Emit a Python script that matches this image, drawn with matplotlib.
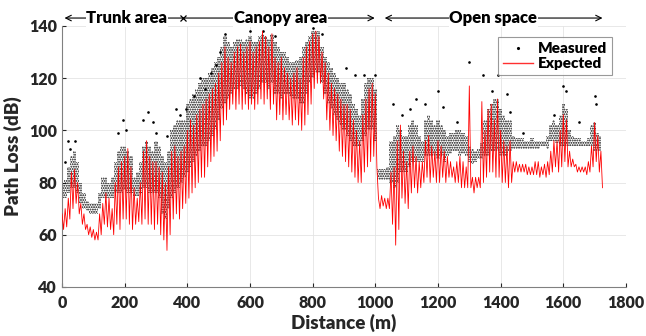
import matplotlib
matplotlib.use('Agg')
import matplotlib.pyplot as plt
from matplotlib.lines import Line2D

# distance bins (m), 10 m apart
dist = list(range(0, 1730, 10))

# measured path loss, dense band per bin (dB)
meas_lo = [74, 74, 76, 78, 78, 76, 72, 70, 69, 68,
           68, 68, 70, 74, 74, 74, 74, 76, 76, 76,
           77, 76, 76, 75, 75, 76, 78, 78, 76, 76,
           76, 74, 68, 66, 70, 74, 76, 78, 80, 82,
           84, 86, 88, 90, 92, 94, 94, 96, 98, 100,
           104, 108, 110, 112, 114, 116, 116, 117, 116, 114,
           112, 112, 114, 116, 118, 118, 116, 118, 114, 114,
           112, 114, 114, 113, 112, 112, 110, 110, 114, 118,
           120, 122, 122, 118, 114, 110, 108, 106, 104, 102,
           100, 98, 96, 94, 94, 94, 96, 98, 100, 100,
           96, 81, 81, 81, 81, 80, 78, 80, 84, 84,
           84, 86, 88, 88, 88, 88, 90, 90, 90, 90,
           89, 90, 88, 90, 91, 92, 92, 90, 91, 90,
           88, 87, 88, 89, 89, 90, 90, 92, 92, 92,
           90, 90, 90, 92, 93, 93, 93, 93, 93, 93,
           93, 93, 93, 94, 94, 93, 96, 96, 95, 94,
           94, 94, 94, 94, 94, 94, 94, 94, 94, 94,
           92, 92, 92]
meas_hi = [80, 81, 86, 90, 92, 88, 80, 76, 73, 72,
           72, 72, 76, 82, 82, 80, 82, 88, 92, 94,
           94, 92, 90, 82, 84, 88, 94, 96, 94, 92,
           96, 94, 90, 88, 92, 100, 102, 104, 104, 104,
           110, 112, 114, 116, 118, 120, 120, 122, 124, 126,
           128, 132, 136, 134, 132, 134, 135, 135, 134, 135,
           136, 134, 134, 136, 137, 136, 135, 137, 134, 132,
           130, 130, 128, 126, 126, 127, 128, 132, 134, 136,
           138, 138, 138, 132, 128, 126, 124, 122, 120, 118,
           118, 116, 114, 110, 108, 106, 112, 118, 120, 120,
           116, 85, 85, 85, 86, 96, 98, 102, 100, 98,
           98, 102, 104, 102, 98, 96, 104, 106, 104, 102,
           104, 102, 100, 98, 99, 99, 100, 100, 99, 98,
           94, 93, 92, 93, 95, 104, 108, 110, 112, 112,
           108, 106, 104, 104, 98, 97, 97, 97, 96, 96,
           97, 96, 96, 96, 96, 98, 102, 104, 102, 106,
           110, 108, 100, 98, 97, 97, 96, 96, 97, 102,
           103, 99, 98]

# expected path loss, upper and lower swing per bin (dB)
exp_hi = [68, 70, 74, 84, 85, 80, 72, 68, 64, 63,
          62, 61, 68, 72, 76, 74, 70, 80, 86, 88,
          90, 93, 86, 78, 74, 80, 92, 96, 90, 88,
          88, 86, 84, 80, 86, 92, 94, 90, 92, 94,
          100, 104, 102, 106, 108, 110, 112, 114, 116, 118,
          122, 126, 132, 128, 126, 130, 132, 133, 130, 132,
          134, 130, 132, 134, 138, 136, 132, 137, 128, 126,
          128, 124, 122, 120, 122, 124, 120, 128, 132, 134,
          137, 138, 136, 130, 126, 122, 118, 116, 114, 112,
          110, 110, 108, 104, 100, 96, 106, 112, 116, 118,
          114, 74, 75, 74, 74, 84, 86, 96, 102, 92,
          88, 92, 94, 90, 88, 88, 96, 98, 94, 92,
          96, 94, 92, 90, 88, 86, 88, 90, 88, 86,
          117, 82, 82, 82, 111, 100, 108, 110, 104, 112,
          100, 96, 94, 96, 88, 88, 87, 87, 87, 86,
          86, 88, 88, 86, 87, 88, 92, 96, 96, 100,
          106, 104, 92, 89, 87, 86, 86, 86, 88, 94,
          103, 98, 92]
exp_lo = [62, 63, 66, 70, 72, 68, 64, 62, 60, 59,
          58, 58, 60, 64, 63, 62, 60, 64, 62, 66,
          66, 64, 62, 64, 65, 64, 66, 64, 64, 62,
          64, 60, 58, 54, 60, 66, 68, 66, 70, 72,
          74, 76, 78, 80, 82, 82, 86, 88, 90, 92,
          96, 102, 104, 108, 110, 108, 110, 108, 110, 108,
          110, 108, 110, 112, 110, 112, 108, 110, 104, 106,
          104, 106, 104, 102, 104, 102, 100, 102, 106, 110,
          116, 118, 118, 112, 104, 100, 98, 96, 92, 90,
          88, 86, 84, 82, 80, 80, 84, 86, 88, 90,
          86, 70, 71, 70, 70, 64, 56, 62, 74, 72,
          70, 76, 78, 76, 78, 80, 82, 80, 82, 80,
          80, 82, 80, 82, 82, 80, 80, 78, 78, 78,
          78, 76, 78, 78, 80, 82, 84, 84, 82, 82,
          80, 80, 78, 80, 84, 84, 84, 84, 83, 83,
          83, 83, 82, 83, 82, 83, 84, 86, 84, 86,
          88, 86, 86, 86, 84, 84, 84, 83, 84, 86,
          88, 84, 78]

# isolated measured points above the dense band
out_x = [10, 20, 25, 40, 180, 195, 205, 260, 275, 290, 300, 335, 365, 375,
         395, 420, 440, 455, 475, 490, 505, 520, 600, 640, 680, 800, 830,
         905, 935, 965, 1000, 1055, 1085, 1110, 1130, 1160, 1200, 1215,
         1260, 1299, 1344, 1371, 1392, 1420, 1430, 1470, 1570, 1600, 1610,
         1650, 1700, 1705]
out_y = [88, 96, 93, 96, 99, 104, 100, 104, 107, 103, 99, 98, 108, 106,
         108, 113, 120, 116, 122, 125, 130, 137, 138, 138, 136, 139, 137,
         124, 121, 121, 121, 110, 106, 108, 112, 110, 115, 109,
         103, 126, 121, 115, 121, 114, 107, 99, 106, 117, 115,
         103, 113, 110]

plt.rcParams['font.family'] = ['Lato', 'DejaVu Sans']
plt.rcParams['font.weight'] = 'bold'
plt.rcParams['hatch.linewidth'] = 0.9

fig = plt.figure(figsize=(6.46, 3.36), dpi=100)
ax = fig.add_axes([0.096, 0.146, 0.873, 0.777])

# measured: dotted band per bin
ax.fill_between(dist, meas_lo, meas_hi, step='mid', facecolor='none',
                edgecolor='black', hatch='.......', linewidth=0, zorder=2)
ax.plot(out_x, out_y, '.', color='black', markersize=1.8, zorder=2)

# expected: line swinging between high and low in each bin
ex = []
ey = []
for d, hi, lo in zip(dist, exp_hi, exp_lo):
    ex += [d, d + 5]
    ey += [hi, lo]
ax.plot(ex, ey, color='#ff0000', linewidth=0.6, zorder=3)

ax.set_xlim(0, 1800)
ax.set_ylim(40, 140)
ax.set_xticks(range(0, 1801, 200))
ax.set_yticks(range(40, 141, 20))
ax.tick_params(direction='in', labelsize=11.5, colors='#262626', length=3)
ax.tick_params(axis='x', pad=6)
for lab in ax.get_xticklabels() + ax.get_yticklabels():
    lab.set_fontweight('heavy')
ax.grid(True, color='#e4e4e4', linewidth=0.6)
ax.set_axisbelow(True)
ax.spines['top'].set_visible(False)
ax.spines['right'].set_visible(False)
ax.spines['left'].set_color('#808080')
ax.spines['bottom'].set_color('#808080')

ax.set_xlabel('Distance (m)', fontsize=13.5, fontweight='heavy', color='#262626', labelpad=2)
ax.set_ylabel('Path Loss (dB)', fontsize=13.5, fontweight='heavy', color='#262626', labelpad=5)

handles = [Line2D([], [], linestyle='none', marker='.', color='black', markersize=2.5),
           Line2D([], [], color='#ff3030', linewidth=1.0)]
leg = ax.legend(handles, ['Measured', 'Expected'], loc='upper right',
                bbox_to_anchor=(0.988, 0.985), frameon=True,
                fancybox=False, edgecolor='#808080', handlelength=2.0,
                handletextpad=0.3, borderpad=0.3, labelspacing=0.15,
                prop={'weight': 'heavy', 'size': 11})
leg.get_frame().set_linewidth(0.8)

# region labels above the axes
ya = 143
arw = dict(arrowstyle='->', color='black', lw=0.8, shrinkA=0, shrinkB=0)
ax.annotate('', xy=(8, ya), xytext=(386, ya), arrowprops=arw, annotation_clip=False)
ax.annotate('', xy=(998, ya), xytext=(386, ya), arrowprops=arw, annotation_clip=False)
ax.annotate('', xy=(1030, ya), xytext=(1380, ya), arrowprops=arw, annotation_clip=False)
ax.annotate('', xy=(1725, ya), xytext=(1380, ya), arrowprops=arw, annotation_clip=False)
ax.plot([386], [ya], marker='x', color='black', markersize=5, mew=0.9, clip_on=False)
box = dict(facecolor='white', edgecolor='none', pad=0.5)
ax.text(207, ya, 'Trunk area', ha='center', va='center', fontsize=12,
        fontweight='heavy', bbox=box, clip_on=False)
ax.text(697, ya, 'Canopy area', ha='center', va='center', fontsize=12,
        fontweight='heavy', bbox=box, clip_on=False)
ax.text(1376, ya, 'Open space', ha='center', va='center', fontsize=12,
        fontweight='heavy', bbox=box, clip_on=False)

fig.savefig('out.png', dpi=100)
